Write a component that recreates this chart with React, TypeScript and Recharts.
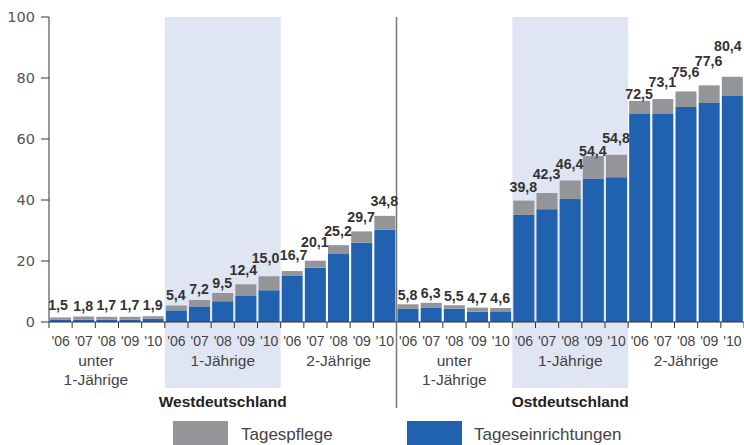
import React from 'react';
import { BarChart, Bar, XAxis, YAxis, ReferenceArea, ReferenceLine, LabelList } from 'recharts';

document.body.style.margin = '0';

const years = ["'06", "'07", "'08", "'09", "'10"];
const regions = ['Westdeutschland', 'Ostdeutschland'];
const ageGroups = [['unter', '1-Jährige'], ['1-Jährige'], ['2-Jährige']];
const yTicks = [0, 20, 40, 60, 80, 100];

// totals per bar (Tagespflege + Tageseinrichtungen), in 5-year blocks per age group
const westTotal = [1.5, 1.8, 1.7, 1.7, 1.9, 5.4, 7.2, 9.5, 12.4, 15.0, 16.7, 20.1, 25.2, 29.7, 34.8];
const westTageseinrichtungen = [0.7, 0.8, 0.8, 0.8, 1.1, 3.8, 5.1, 6.8, 8.7, 10.4, 15.1, 17.8, 22.3, 26.0, 30.2];
const eastTotal = [5.8, 6.3, 5.5, 4.7, 4.6, 39.8, 42.3, 46.4, 54.4, 54.8, 72.5, 73.1, 75.6, 77.6, 80.4];
const eastTageseinrichtungen = [4.3, 4.6, 4.4, 3.4, 3.5, 35.1, 37.0, 40.3, 46.9, 47.5, 68.2, 68.2, 70.5, 71.8, 74.1];

// how far each value label sits above its bar (px), the original staggers them
const labelRaise = [
  12, 11, 11.5, 11.5, 11, 10.5, 11, 10, 14, 18, 16, 19, 14.3, 14, 15,
  9.3, 9.5, 9.5, 9.4, 9.7, 14, 18.7, 16, 5.4, 16.6, 7, 16.7, 19.4, 24.6, 30.8,
];
// a few labels are nudged sideways in the original
const labelShift: Record<number, number> = { 0: -2, 8: -2, 9: -3, 10: 2, 29: -4 };

const rows = regions.flatMap((region, r) => {
  const totals = r === 0 ? westTotal : eastTotal;
  const blue = r === 0 ? westTageseinrichtungen : eastTageseinrichtungen;
  return totals.map((total, i) => ({
    id: `${r}-${i}`,
    region: r,
    pos: i,
    year: years[i % 5],
    Tageseinrichtungen: blue[i],
    Tagespflege: +(total - blue[i]).toFixed(1),
    total,
  }));
});

const W = 744;
const H = 445;
const LEFT = 49;
const PITCH = (W - LEFT) / rows.length;
const FONT = '"Liberation Sans", Arial, sans-serif';

function XTick(props: any) {
  const { x, y, payload } = props;
  const row = rows.find((d) => d.id === payload.value);
  if (!row) return null;
  const idx = row.region * 15 + row.pos;
  const group = Math.floor(row.pos / 5);
  const groupDx = row.region === 0 && group === 0 ? -11 : 0;
  return (
    <g>
      <line x1={x - PITCH / 2} x2={x - PITCH / 2} y1={y} y2={y + 6} stroke="#333" />
      {idx === rows.length - 1 && (
        <line x1={x + PITCH / 2} x2={x + PITCH / 2} y1={y} y2={y + 6} stroke="#333" />
      )}
      {idx === 15 && (
        <line x1={x - PITCH / 2} x2={x - PITCH / 2} y1={y} y2={y + 86} stroke="#777" strokeWidth={1.5} />
      )}
      <text x={x} y={y + 24} textAnchor="middle" fontSize={14} fill="#444" fontFamily={FONT}>
        {row.year}
      </text>
      {row.pos % 5 === 2 &&
        ageGroups[group].map((line, k) => (
          <text
            key={k}
            x={x + groupDx}
            y={y + 44 + k * 19}
            textAnchor="middle"
            fontSize={15.5}
            fill="#444"
            fontFamily={FONT}
          >
            {line}
          </text>
        ))}
      {row.pos === 7 && (
        <text x={x} y={y + 85} textAnchor="middle" fontSize={15.5} fontWeight="bold" fill="#222" fontFamily={FONT}>
          {regions[row.region]}
        </text>
      )}
    </g>
  );
}

function ValueLabel(props: any) {
  const { x, y, width, value, index } = props;
  return (
    <text
      x={x + width / 2 - 0.5 + (labelShift[index] ?? 0)}
      y={y - labelRaise[index] + 5}
      textAnchor="middle"
      fontSize={14.2}
      fontWeight="bold"
      fill="#333"
      fontFamily={FONT}
    >
      {Number(value).toFixed(1).replace('.', ',')}
    </text>
  );
}

const swatch = (left: number, color: string): React.CSSProperties => ({
  position: 'absolute',
  left,
  top: 421,
  width: 55,
  height: 24,
  background: color,
});
const legendText = (left: number): React.CSSProperties => ({
  position: 'absolute',
  left,
  top: 423,
  lineHeight: '24px',
  fontSize: 17,
  color: '#444',
  fontFamily: FONT,
});

export default function App() {
  return (
    <div style={{ position: 'relative', width: W, height: H, overflow: 'hidden', background: '#fff' }}>
      <BarChart
        width={W}
        height={H}
        data={rows}
        margin={{ top: 17, right: 0, bottom: 0, left: 0 }}
        barSize={21}
        style={{ fontFamily: FONT }}
      >
        <ReferenceArea x1="0-5" x2="0-9" y1={-21.6} y2={100} ifOverflow="visible" fill="#dfe5f2" fillOpacity={1} />
        <ReferenceArea x1="1-5" x2="1-9" y1={-21.6} y2={100} ifOverflow="visible" fill="#dfe5f2" fillOpacity={1} />
        <XAxis
          dataKey="id"
          interval={0}
          tickSize={0}
          tickMargin={0}
          tickLine={false}
          axisLine={{ stroke: '#333' }}
          height={123}
          tick={(p: any) => <XTick {...p} />}
        />
        <YAxis
          domain={[0, 100]}
          ticks={yTicks}
          width={49}
          tickSize={8}
          tickMargin={6}
          axisLine={{ stroke: '#333' }}
          tickLine={{ stroke: '#333' }}
          tick={{ fill: '#555', fontSize: 14.5, fontFamily: '"DejaVu Sans", sans-serif' }}
        />
        <ReferenceLine x="1-0" position="start" stroke="#777" strokeWidth={1.5} ifOverflow="visible" />
        <Bar dataKey="Tageseinrichtungen" stackId="a" fill="#2062b0" isAnimationActive={false} />
        <Bar dataKey="Tagespflege" stackId="a" fill="#939598" isAnimationActive={false}>
          <LabelList dataKey="total" content={(p: any) => <ValueLabel {...p} />} />
        </Bar>
      </BarChart>
      <div style={swatch(173, '#939598')} />
      <div style={legendText(241)}>Tagespflege</div>
      <div style={swatch(407, '#2062b0')} />
      <div style={legendText(474)}>Tageseinrichtungen</div>
    </div>
  );
}
